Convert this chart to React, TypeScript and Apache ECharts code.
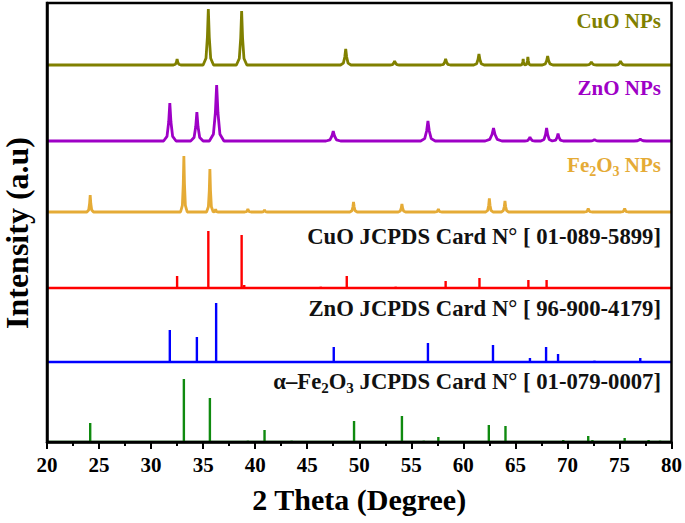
import React, { useEffect, useRef } from "react";
import * as echarts from "echarts";

// 2θ range and tick labels
const xTicks = [20, 25, 30, 35, 40, 45, 50, 55, 60, 65, 70, 75, 80];

// Experimental patterns: [2θ, relative intensity, half base width]
const cuoNPsPeaks = [
  [32.5, 6, 0.35], [35.5, 56, 0.5], [38.7, 54, 0.5], [48.7, 16, 0.5], [53.4, 4, 0.45],
  [58.3, 6, 0.45], [61.5, 11, 0.5], [65.75, 6, 0.22], [66.2, 8, 0.25], [68.1, 9, 0.5],
  [72.3, 3, 0.5], [75.1, 4, 0.5],
];
const znoNPsPeaks = [
  [31.8, 38, 0.6], [34.4, 29, 0.6], [36.3, 56, 0.7], [47.5, 10, 0.7], [56.6, 20, 0.7],
  [62.9, 13, 0.8], [66.4, 4, 0.5], [68.0, 13, 0.55], [69.1, 7.5, 0.5], [72.6, 1.5, 0.5],
  [77.0, 2, 0.6],
];
const fe2o3NPsPeaks = [
  [24.15, 17, 0.32], [33.15, 56, 0.32], [35.65, 43, 0.32], [36.2, 3, 0.2], [39.3, 3, 0.3],
  [40.9, 2, 0.3], [49.45, 10, 0.35], [54.1, 8, 0.35], [57.6, 3, 0.3], [62.5, 13.5, 0.35],
  [64.0, 11, 0.35], [72.0, 3.5, 0.35], [75.5, 3.5, 0.35],
];

// Reference cards: [2θ, relative intensity]
const cuoCardSticks = [
  [32.5, 12], [35.5, 57], [38.7, 53], [38.95, 3], [46.3, 1.5], [48.8, 12], [53.5, 1.5],
  [58.3, 7], [61.55, 10], [66.25, 8], [68.0, 8],
];
const znoCardSticks = [
  [31.8, 32], [34.4, 25], [36.25, 59], [47.55, 15], [56.6, 19], [62.85, 17], [66.4, 4],
  [67.95, 15], [69.1, 8], [72.6, 1.5], [77.0, 4],
];
const fe2o3CardSticks = [
  [24.15, 19], [33.15, 63], [35.65, 44], [39.3, 1.5], [40.9, 12], [43.5, 1.5], [49.5, 21],
  [54.1, 26], [56.2, 1.5], [57.6, 5], [62.45, 17], [64.05, 16], [66.0, 1], [69.6, 2],
  [72.0, 6], [72.4, 2], [75.5, 4], [77.8, 2], [78.9, 1.5],
];

// Vertical stacking offsets
const offsets = {
  cuoNPs: 377,
  znoNPs: 301,
  fe2o3NPs: 230,
  cuoCard: 154,
  znoCard: 80,
  fe2o3Card: 0,
};

const seriesNames = [
  "CuO NPs",
  "ZnO NPs",
  "Fe2O3 NPs",
  "CuO JCPDS Card N° [ 01-089-5899]",
  "ZnO JCPDS Card N° [ 96-900-4179]",
  "α–Fe2O3 JCPDS Card N° [ 01-079-0007]",
];

// Label texts: [text, isSubscript]
const labelCuoNPs: [string, boolean][] = [["CuO NPs", false]];
const labelZnoNPs: [string, boolean][] = [["ZnO NPs", false]];
const labelFeNPs: [string, boolean][] = [["Fe", false], ["2", true], ["O", false], ["3", true], [" NPs", false]];
const labelCuoCard: [string, boolean][] = [["CuO JCPDS Card N° [ 01-089-5899]", false]];
const labelZnoCard: [string, boolean][] = [["ZnO JCPDS Card N° [ 96-900-4179]", false]];
const labelFeCard: [string, boolean][] = [
  ["α–Fe", false], ["2", true], ["O", false], ["3", true], [" JCPDS Card N° [ 01-079-0007]", false],
];

const profileOffsets = [-1, -0.45, -0.18, 0, 0.18, 0.45, 1];
const profileFractions = [0, 0.12, 0.5, 1, 0.5, 0.12, 0];

function peakTrace(peaks: number[][], base: number) {
  const pts: number[][] = [[20, base]];
  for (const [x, h, w] of peaks) {
    profileOffsets.forEach((o, i) => pts.push([x + o * w, base + h * profileFractions[i]]));
  }
  pts.push([80, base]);
  return pts;
}

function stickTrace(sticks: number[][], base: number) {
  const pts: number[][] = [[20, base]];
  for (const [x, h] of sticks) {
    pts.push([x, base], [x, base + h], [x, base]);
  }
  pts.push([80, base]);
  return pts;
}

const FONT = '"Liberation Serif", "Times New Roman", serif';

let measureCtx: CanvasRenderingContext2D | null = null;
function measure(text: string, size: number) {
  if (!measureCtx) measureCtx = document.createElement("canvas").getContext("2d");
  if (!measureCtx) return text.length * size * 0.5;
  measureCtx.font = `bold ${size}px ${FONT}`;
  return measureCtx.measureText(text).width;
}

function richLabel(parts: [string, boolean][], right: number, yc: number, color: string, size: number) {
  const subSize = Math.round(size * 0.68);
  const children: any[] = [];
  let x = right;
  for (let i = parts.length - 1; i >= 0; i--) {
    const [t, sub] = parts[i];
    const fs = sub ? subSize : size;
    const w = measure(t, fs);
    x -= w;
    children.push({
      type: "text",
      x,
      y: sub ? yc + size * 0.33 : yc,
      z: 20,
      style: {
        text: t,
        fill: color,
        font: `bold ${fs}px ${FONT}`,
        fontFamily: FONT,
        fontSize: fs,
        fontWeight: "bold",
        align: "left",
        verticalAlign: "middle",
      },
    });
  }
  return { type: "group", children };
}

export default function App() {
  const ref = useRef<HTMLDivElement>(null);
  useEffect(() => {
    if (!ref.current) return;
    const chart = echarts.init(ref.current, undefined, { renderer: "svg" });
    const mk = (name: string, data: number[][], color: string, width = 2.3) => ({
      name,
      type: "line",
      data,
      showSymbol: false,
      symbol: "none",
      lineStyle: { color, width },
      itemStyle: { color },
      z: 3,
    });
    chart.setOption({
      animation: false,
      backgroundColor: "#fff",
      grid: {
        left: 47,
        right: 12,
        top: 3,
        bottom: 81,
        show: true,
        borderColor: "#000",
        borderWidth: 2.5,
        z: 9,
      },
      xAxis: {
        type: "value",
        min: 20,
        max: 80,
        interval: 5,
        z: 10,
        axisLine: { show: true, lineStyle: { color: "#000", width: 2.5 } },
        axisTick: { show: true, inside: false, length: 7, lineStyle: { color: "#000", width: 2 } },
        minorTick: { show: true, splitNumber: 2, length: 4, lineStyle: { color: "#000", width: 2 } },
        splitLine: { show: false },
        axisLabel: {
          color: "#000",
          fontFamily: FONT,
          fontWeight: "bold",
          fontSize: 21,
          margin: 12,
          formatter: (v: number) => (xTicks.includes(v) ? String(v) : ""),
        },
        name: "2 Theta (Degree)",
        nameLocation: "middle",
        nameGap: 42,
        nameTextStyle: { color: "#000", fontFamily: FONT, fontWeight: "bold", fontSize: 30 },
      },
      yAxis: {
        type: "value",
        min: 0,
        max: 439,
        z: 10,
        axisLine: { show: true, lineStyle: { color: "#000", width: 2.5 } },
        axisTick: { show: false },
        axisLabel: { show: false },
        splitLine: { show: false },
      },
      series: [
        mk(seriesNames[0], peakTrace(cuoNPsPeaks, offsets.cuoNPs), "#808000", 2.8),
        mk(seriesNames[1], peakTrace(znoNPsPeaks, offsets.znoNPs), "#9e00c6", 2.8),
        mk(seriesNames[2], peakTrace(fe2o3NPsPeaks, offsets.fe2o3NPs), "#e5ab36", 2.8),
        mk(seriesNames[3], stickTrace(cuoCardSticks, offsets.cuoCard), "#ff0000", 2.4),
        mk(seriesNames[4], stickTrace(znoCardSticks, offsets.znoCard), "#0000ff", 2.4),
        mk(seriesNames[5], stickTrace(fe2o3CardSticks, offsets.fe2o3Card), "#0f8a0f", 2.4),
      ],
      graphic: [
        {
          type: "text",
          x: 17,
          y: 233,
          rotation: Math.PI / 2,
          z: 20,
          style: {
            text: "Intensity (a.u)",
            fill: "#000",
            font: `bold 32px ${FONT}`,
            fontFamily: FONT,
            fontSize: 32,
            fontWeight: "bold",
            align: "center",
            verticalAlign: "middle",
          },
        },
        richLabel(labelCuoNPs, 661, 21, "#808000", 21),
        richLabel(labelZnoNPs, 661, 88, "#9e00c6", 21),
        richLabel(labelFeNPs, 661, 165, "#e5ab36", 21),
        richLabel(labelCuoCard, 661, 236, "#111", 22.7),
        richLabel(labelZnoCard, 661, 308, "#111", 22.7),
        richLabel(labelFeCard, 661, 381, "#111", 22.7),
      ],
    });
    return () => chart.dispose();
  }, []);
  return (
    <div
      ref={ref}
      style={{ position: "absolute", left: 0, top: 0, width: 685, height: 523, background: "#fff" }}
    />
  );
}
